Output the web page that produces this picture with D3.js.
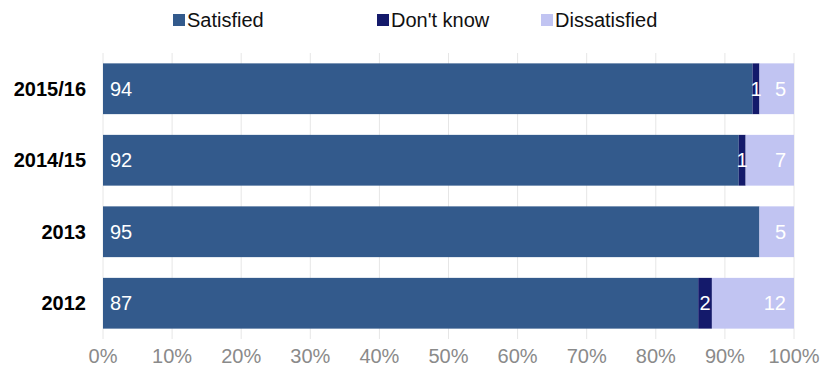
<!DOCTYPE html>
<html>
<head>
<meta charset="utf-8">
<script src="https://cdn.jsdelivr.net/npm/d3@7"></script>
<style>
  body { margin: 0; background: #fff; }
  text { font-family: "Liberation Sans", Arial, sans-serif; }
</style>
</head>
<body>
<script>
// data (percent)
const years = ["2015/16", "2014/15", "2013", "2012"];
const series = ["Satisfied", "Don't know", "Dissatisfied"];
const satisfied = [94, 92, 95, 87];
const dontKnow = [1, 1, 0, 2];
const dissatisfied = [5, 7, 5, 12];
const ticks = [0, 0.1, 0.2, 0.3, 0.4, 0.5, 0.6, 0.7, 0.8, 0.9, 1];
const colors = ["#335a8c", "#141a6b", "#c1c4f2"];

const width = 822, height = 371;
const margin = { left: 103, right: 28, top: 53, bottom: 32 };

const rows = years.map((y, i) => ({
  year: y,
  "Satisfied": satisfied[i],
  "Don't know": dontKnow[i],
  "Dissatisfied": dissatisfied[i]
}));

const stacked = d3.stack().keys(series).offset(d3.stackOffsetExpand)(rows);

const svg = d3.select('body').append('svg')
    .attr('width', width)
    .attr('height', height);

const x = d3.scaleLinear().domain([0, 1]).range([margin.left, width - margin.right]);
const y = d3.scaleBand().domain(years)
    .range([margin.top, height - margin.bottom])
    .paddingInner(0.29).paddingOuter(0.145);

// gridlines
svg.append('g').selectAll('line')
    .data(ticks)
    .enter().append('line')
    .attr('x1', d => x(d)).attr('x2', d => x(d))
    .attr('y1', margin.top).attr('y2', height - margin.bottom)
    .attr('stroke', '#e6e6e6')
    .attr('stroke-width', 1);

// x axis labels
svg.append('g').selectAll('text')
    .data(ticks)
    .enter().append('text')
    .attr('x', d => x(d))
    .attr('y', 363)
    .attr('text-anchor', 'middle')
    .attr('font-size', 20)
    .attr('fill', '#8a8a8a')
    .text(d3.format('.0%'));

// bars
const groups = svg.append('g').selectAll('g')
    .data(stacked)
    .enter().append('g')
    .attr('fill', (d, i) => colors[i]);

groups.selectAll('rect')
    .data(d => d)
    .enter().append('rect')
    .attr('x', d => x(d[0]))
    .attr('width', d => x(d[1]) - x(d[0]))
    .attr('y', d => y(d.data.year))
    .attr('height', y.bandwidth());

// value labels
stacked.forEach((s, si) => {
  svg.append('g').selectAll('text')
    .data(s.filter(d => d.data[s.key] > 0))
    .enter().append('text')
    .attr('x', d => si === 0 ? x(d[0]) + 7 : si === 1 ? (x(d[0]) + x(d[1])) / 2 : x(d[1]) - 8)
    .attr('y', d => y(d.data.year) + y.bandwidth() / 2 + 7)
    .attr('text-anchor', si === 0 ? 'start' : si === 1 ? 'middle' : 'end')
    .attr('font-size', 20)
    .attr('fill', '#fff')
    .text(d => d.data[s.key]);
});

// category labels
svg.append('g').selectAll('text')
    .data(years)
    .enter().append('text')
    .attr('x', 86)
    .attr('y', d => y(d) + y.bandwidth() / 2 + 7)
    .attr('text-anchor', 'end')
    .attr('font-size', 20)
    .attr('font-weight', 'bold')
    .attr('fill', '#000')
    .text(d => d);

// legend
const legendX = [173, 377, 541];
const legend = svg.append('g').selectAll('g')
    .data(series)
    .enter().append('g')
    .attr('transform', (d, i) => `translate(${legendX[i]},0)`);
legend.append('rect')
    .attr('x', 0).attr('y', 14)
    .attr('width', 12).attr('height', 12)
    .attr('fill', (d, i) => colors[i]);
legend.append('text')
    .attr('x', 14).attr('y', 27)
    .attr('font-size', 20)
    .attr('fill', '#111')
    .text(d => d);
</script>
</body>
</html>
